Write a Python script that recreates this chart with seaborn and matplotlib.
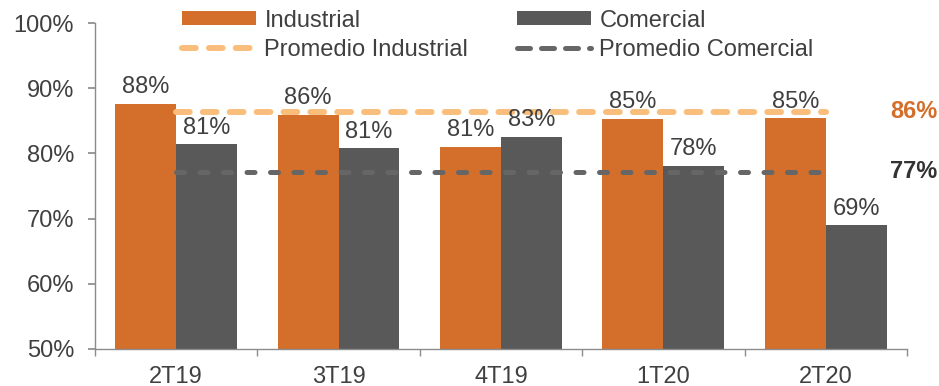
import numpy as np
import pandas as pd
import matplotlib
matplotlib.use("Agg")
import matplotlib.pyplot as plt
import seaborn as sns
from matplotlib.patches import Patch
from matplotlib.lines import Line2D

categories = ["2T19", "3T19", "4T19", "1T20", "2T20"]
industrial = [87.6, 85.9, 81.0, 85.3, 85.4]
comercial = [81.4, 80.8, 82.6, 78.1, 69.0]
prom_industrial = 86.4
prom_comercial = 77.2
series_names = ["Industrial", "Comercial"]

C_IND = "#D36F2B"
C_COM = "#595959"
C_PIND = "#F9BE7C"
C_PCOM = "#666666"
TXT = "#404040"
FS = 17

sns.set_theme(style="white")
plt.rcParams["font.family"] = ["Liberation Sans", "DejaVu Sans"]

df = pd.DataFrame({
    "Periodo": categories * 2,
    "Serie": [series_names[0]] * len(categories) + [series_names[1]] * len(categories),
    "Valor": industrial + comercial,
})

fig = plt.figure(figsize=(9.39, 3.86), dpi=100)
ax = fig.add_axes([0.101, 0.096, 0.865, 0.844])

sns.barplot(data=df, x="Periodo", y="Valor", hue="Serie", order=categories,
            hue_order=series_names, palette=[C_IND, C_COM], width=0.75,
            saturation=1, ax=ax, legend=False, edgecolor="none")

ax.set_ylim(50, 100)
ax.set_xlim(-0.5, len(categories) - 0.5)
xs = np.arange(len(categories))
LW_I, DASH_I = 4.3, (0, (2.3, 2.2))
LW_C, DASH_C = 3.6, (0, (1.6, 3.1))
ax.plot(xs, [prom_industrial] * len(xs), color=C_PIND, lw=LW_I, ls=DASH_I,
        dash_capstyle="round", zorder=3)
ax.plot(xs, [prom_comercial] * len(xs), color=C_PCOM, lw=LW_C, ls=DASH_C,
        dash_capstyle="round", zorder=3)

# value labels
for cont in ax.containers:
    ax.bar_label(cont, labels=[f"{v:.0f}%" for v in cont.datavalues], padding=4,
                 fontsize=FS, color=TXT)

# right-side average labels
ax.annotate(f"{prom_industrial:.0f}%", xy=(0.979, prom_industrial), xycoords=("axes fraction", "data"),
            ha="left", va="center", fontsize=FS, fontweight="bold", color=C_IND,
            annotation_clip=False)
ax.annotate(f"{prom_comercial:.0f}%", xy=(0.979, prom_comercial), xycoords=("axes fraction", "data"),
            ha="left", va="center", fontsize=FS, fontweight="bold", color="#333333",
            annotation_clip=False)

# axes styling
ax.set_yticks(np.arange(50, 101, 10))
ax.set_yticklabels([f"{v}%" for v in range(50, 101, 10)])
ax.set_xlabel("")
ax.set_ylabel("")
for s in ["top", "right"]:
    ax.spines[s].set_visible(False)
for s in ["left", "bottom"]:
    ax.spines[s].set_color("#8C8C8C")
    ax.spines[s].set_linewidth(1.0)
ax.tick_params(axis="y", which="major", left=True, length=5, color="#8C8C8C",
               labelsize=FS, labelcolor=TXT, pad=10)
ax.tick_params(axis="x", which="major", bottom=False, labelsize=FS, labelcolor=TXT, pad=6)
ax.set_xticks(np.arange(-0.5, len(categories), 1.0), minor=True)
ax.tick_params(axis="x", which="minor", bottom=True, length=5, color="#8C8C8C", direction="out")

handles = [
    Patch(facecolor=C_IND, edgecolor="none", label="Industrial"),
    Line2D([0], [0], color=C_PIND, lw=LW_I, ls=DASH_I, dash_capstyle="round",
           label="Promedio Industrial"),
    Patch(facecolor=C_COM, edgecolor="none", label="Comercial"),
    Line2D([0], [0], color=C_PCOM, lw=LW_C, ls=(0, (2.6, 2.2)), dash_capstyle="round",
           label="Promedio Comercial"),
]
leg = fig.legend(handles=handles, ncol=2, loc="upper left", bbox_to_anchor=(0.171, 1.03),
                 frameon=False, fontsize=FS, handlelength=3.15, handleheight=0.55,
                 columnspacing=2.05, labelspacing=0.32, handletextpad=0.35)
for t in leg.get_texts():
    t.set_color(TXT)

fig.savefig("out.png", dpi=100)
